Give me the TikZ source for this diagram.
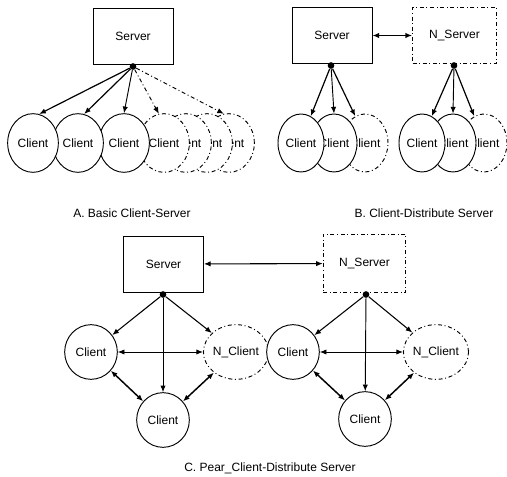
\documentclass[tikz,border=0pt]{standalone}
\usepackage{fontspec}
\setmainfont{Liberation Sans}
\usetikzlibrary{arrows.meta,shapes.geometric}

\begin{document}
\begin{tikzpicture}[x=0.75pt, y=-0.75pt,
	font=\fontsize{9}{10}\selectfont,
	srv/.style={draw, line width=0.6pt, minimum width=60pt, minimum height=42pt, inner sep=0pt},
	nsrv/.style={srv, dash dot},
	cli/.style={ellipse, draw, fill=white, line width=0.7pt, inner sep=0pt},
	ncli/.style={cli, dash dot},
	acli/.style={minimum width=38pt, minimum height=44pt},
	bcli/.style={minimum width=34.5pt, minimum height=43.5pt},
	ccli/.style={minimum width=39.5pt, minimum height=41pt},
	hub/.style={circle, fill=black, inner sep=0pt, minimum size=5pt},
	arr/.style={-{Latex[length=5pt,width=4pt]}, line width=0.9pt},
	darr/.style={{Latex[length=5pt,width=4pt]}-{Latex[length=5pt,width=4pt]}, line width=0.9pt}]
			%%%%% START %%%%%
			\useasboundingbox (0,0) rectangle (507,477);
			
			% A. basic client-server
			\node[srv] (sa) at (133,36.5) {Server};
			\node[hub] (ha) at (133,66.5) {};
			
			\node[ncli,acli] (ca7) at (229,143) {Client};
			\node[ncli,acli] (ca6) at (207,143) {Client};
			\node[ncli,acli] (ca5) at (186,143) {Client};
			\node[ncli,acli] (ca4) at (164,143) {Client};
			\node[cli,acli] (ca3) at (124,143) {Client};
			\node[cli,acli] (ca2) at (78,143) {Client};
			\node[cli,acli] (ca1) at (33,143) {Client};
			
			\draw[arr] (ha) -- (ca1.78);
			\draw[arr] (ha) -- (ca2.78);
			\draw[arr, line width=0.7pt] (ha) -- (ca3.north);
			\draw[arr, line width=0.7pt, dash dot] (ha) -- (ca4.100);
			\draw[arr, line width=0.7pt, dash dot] (ha) -- (ca7.100);
			
			\node (capa) at (132,213) {A. Basic Client-Server};
			
			% B. client-distribute server
			\node[srv] (sb) at (332,35.5) {Server};
			\node[nsrv, minimum width=63pt] (nb) at (454.5,35.5) {N\_Server};
			\draw[darr] (sb) -- (nb);
			\node[hub] (hb) at (331,65.5) {};
			\node[hub] (hnb) at (454,65.5) {};
			
			\node[ncli,bcli] (cb3) at (365,143) {Client};
			\node[cli,bcli] (cb2) at (334,143) {Client};
			\node[cli,bcli] (cb1) at (301,143) {Client};
			\node[ncli,bcli] (cn3) at (484,143) {Client};
			\node[cli,bcli] (cn2) at (453,143) {Client};
			\node[cli,bcli] (cn1) at (422,143) {Client};
			
			\draw[arr] (hb) -- (cb1.70);
			\draw[arr, line width=0.7pt] (hb) -- (cb2.north);
			\draw[arr] (hb) -- (cb3.110);
			\draw[arr] (hnb) -- (cn1.70);
			\draw[arr, line width=0.7pt] (hnb) -- (cn2.north);
			\draw[arr] (hnb) -- (cn3.110);
			
			\node (capb) at (424,213) {B. Client-Distribute Server};
			
			% C. pear client-distribute server
			\node[srv] (sc) at (163.5,264) {Server};
			\node[nsrv, minimum width=62pt, minimum height=44pt] (nc) at (364.5,263.5) {N\_Server};
			\draw[darr, line width=0.8pt] (sc) -- (nc);
			\node[hub] (hc) at (163,294.5) {};
			\node[hub] (hnc) at (366,294.5) {};
			
			\node[cli,ccli] (cc1) at (91,352) {Client};
			\node[ncli,ccli] (cc2) at (236,352) {N\_Client};
			\node[cli,ccli] (cc3) at (163,420) {Client};
			\node[cli,ccli] (cd1) at (293,352) {Client};
			\node[ncli,ccli] (cd2) at (436,352) {N\_Client};
			\node[cli,ccli] (cd3) at (365,419) {Client};
			
			\draw[arr, line width=0.8pt] (hc) -- (cc1);
			\draw[arr, line width=0.7pt] (hc) -- (cc3);
			\draw[arr, line width=0.8pt] (hc) -- (cc2);
			\draw[darr, line width=0.7pt] (cc1) -- (cc2);
			\draw[darr, line width=1.1pt] (cc1) -- (cc3);
			\draw[darr, line width=1.1pt] (cc2) -- (cc3);
			
			\draw[arr, line width=0.8pt] (hnc) -- (cd1);
			\draw[arr, line width=0.7pt] (hnc) -- (cd3);
			\draw[arr, line width=0.8pt] (hnc) -- (cd2);
			\draw[darr, line width=0.7pt] (cd1) -- (cd2);
			\draw[darr, line width=1.1pt] (cd1) -- (cd3);
			\draw[darr, line width=1.1pt] (cd2) -- (cd3);
			
			\node (capc) at (270,468) {C. Pear\_Client-Distribute Server};
			%%%%% END %%%%%
		\end{tikzpicture}
\end{document}
